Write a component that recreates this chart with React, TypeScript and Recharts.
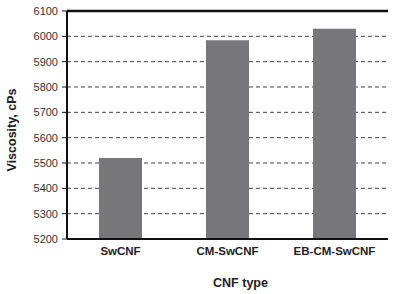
import React from 'react';
import { BarChart, Bar, XAxis, YAxis, CartesianGrid, ReferenceLine } from 'recharts';

const CNF_TYPES = ['SwCNF', 'CM-SwCNF', 'EB-CM-SwCNF'];
const VISCOSITY = [5520, 5985, 6030];
const Y_TICKS = [5200, 5300, 5400, 5500, 5600, 5700, 5800, 5900, 6000, 6100];
const BOUNDARY_TICKS = [1, 2];

const data = CNF_TYPES.map((name, i) => ({ name, viscosity: VISCOSITY[i] }));

const FONT = 'Arial, "Liberation Sans", sans-serif';

export default function App() {
  return (
    <div style={{ position: 'absolute', left: 0, top: 0, width: 398, height: 294, background: '#fff' }}>
      <BarChart width={398} height={294} data={data} margin={{ top: 11, right: 10, bottom: 0, left: 0 }}>
        <CartesianGrid vertical={false} stroke="#444" strokeDasharray="4 3" />
        <XAxis
          dataKey="name"
          height={55}
          tickLine={false}
          axisLine={{ stroke: '#111', strokeWidth: 2 }}
          tick={{ fill: '#222', fontSize: 11.5, fontWeight: 'bold', fontFamily: FONT }}
          label={{ value: 'CNF type', position: 'insideBottom', offset: 7, dx: 13, fill: '#222', fontSize: 12.5, fontWeight: 'bold', fontFamily: FONT }}
        />
        <XAxis
          xAxisId="bounds"
          type="number"
          domain={[0, 3]}
          ticks={BOUNDARY_TICKS}
          mirror
          height={0}
          tick={false}
          tickSize={4}
          axisLine={false}
          tickLine={{ stroke: '#111', strokeWidth: 1.5 }}
        />
        <YAxis
          width={67}
          domain={[5200, 6100]}
          ticks={Y_TICKS}
          interval={0}
          tickSize={5}
          tickMargin={4}
          allowDataOverflow
          axisLine={{ stroke: '#111', strokeWidth: 2 }}
          tickLine={{ stroke: '#111' }}
          tick={{ fill: '#333', fontSize: 11, fontFamily: FONT }}
          label={{ value: 'Viscosity, cPs', angle: -90, position: 'insideLeft', offset: 5, dx: 7, dy: 5, style: { textAnchor: 'middle' }, fill: '#222', fontSize: 12.5, fontWeight: 'bold', fontFamily: FONT }}
        />
        <YAxis yAxisId="right" orientation="right" width={0} domain={[5200, 6100]} tick={false} tickLine={false} axisLine={{ stroke: '#111', strokeWidth: 3 }} />
        <ReferenceLine y={6100} stroke="#111" strokeWidth={2.5} ifOverflow="visible" />
        <Bar dataKey="viscosity" fill="#77777b" barSize={43} isAnimationActive={false} />
      </BarChart>
    </div>
  );
}
